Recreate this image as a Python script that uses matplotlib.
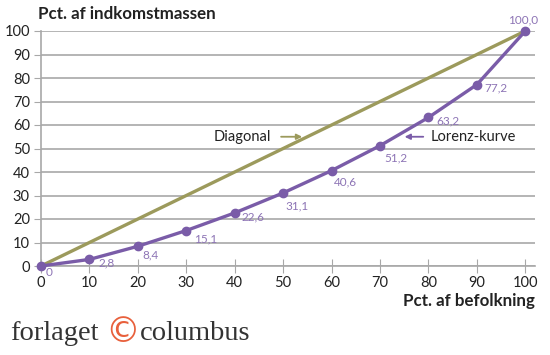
import matplotlib.pyplot as plt

# data
befolkning = [0, 10, 20, 30, 40, 50, 60, 70, 80, 90, 100]
indkomst = [0, 2.8, 8.4, 15.1, 22.6, 31.1, 40.6, 51.2, 63.2, 77.2, 100.0]
labels = ["0", "2,8", "8,4", "15,1", "22,6", "31,1", "40,6", "51,2", "63,2", "77,2", "100,0"]
ticks = [0, 10, 20, 30, 40, 50, 60, 70, 80, 90, 100]

# label offsets in pixels
offsets = [(5, -6), (9, -4), (5, -9), (8, -8), (7, -4), (2, -13), (2, -11), (4, -12), (8, -3), (7, -3), (-17, 11)]

purple = "#7a5ca8"
lab_purple = "#8d74b5"
olive = "#9c9a5c"
grid_c = "#a8a8a8"
txt = "#222222"

plt.rcParams['font.family'] = ['Lato', 'DejaVu Sans']

fig = plt.figure(figsize=(5.5, 3.55), dpi=100)
ax = fig.add_axes([41 / 550, 1 - 266 / 355, (535 - 41) / 550, (266 - 31) / 355])
ax.set_xlim(0, 102)
ax.set_ylim(0, 100)

ax.plot([0, 100], [0, 100], color=olive, lw=2.4, clip_on=False, zorder=3)
ax.plot(befolkning, indkomst, color=purple, lw=2.4, marker='o', ms=6, clip_on=False, zorder=4)

for x, y, s, (dx, dy) in zip(befolkning, indkomst, labels, offsets):
    ax.annotate(s, (x, y), xytext=(dx, dy), textcoords='offset pixels', color=lab_purple,
                fontsize=8.5, ha='left', va='center')

ax.set_yticks(ticks)
ax.set_xticks(ticks)
ax.set_yticklabels([str(t) for t in ticks], fontsize=10.5, color=txt)
ax.set_xticklabels([str(t) for t in ticks], fontsize=10.5, color=txt)
ax.grid(axis='y', color=grid_c, lw=1.2)
ax.set_axisbelow(True)
for s in ['top', 'right']:
    ax.spines[s].set_visible(False)
ax.spines['left'].set_color(grid_c)
ax.spines['bottom'].set_color(grid_c)
ax.spines['left'].set_linewidth(1.2)
ax.spines['bottom'].set_linewidth(1.2)
ax.tick_params(axis='y', length=5, color=grid_c, pad=3)
ax.tick_params(axis='x', direction='inout', length=10, color=grid_c, pad=2)

# annotations
ax.text(47.5, 55, "Diagonal", fontsize=10.5, color=txt, ha='right', va='center')
ax.annotate("", xy=(54.5, 55), xytext=(49, 55),
            arrowprops=dict(arrowstyle='-|>', color=olive, lw=1.3, mutation_scale=8))
ax.text(80.5, 55, "Lorenz-kurve", fontsize=10.5, color=txt, ha='left', va='center')
ax.annotate("", xy=(74.5, 55), xytext=(79.5, 55),
            arrowprops=dict(arrowstyle='-|>', color=purple, lw=1.3, mutation_scale=8))

fig.text(38 / 550, 1 - 14 / 355, "Pct. af indkomstmassen", fontsize=12.2, fontweight='bold',
         color=txt, ha='left', va='center')
fig.text(535 / 550, 1 - 301 / 355, "Pct. af befolkning", fontsize=12.2, fontweight='bold',
         color=txt, ha='right', va='center')

# logo
fig.text(10 / 550, 1 - 333 / 355, "forlaget", fontsize=20.5, family='Liberation Serif', color='#333333',
         ha='left', va='center')
fig.text(123 / 550, 1 - 332 / 355, "\u00a9", fontsize=25, family='DejaVu Sans', color='#e8603c',
         ha='center', va='center')
fig.text(140 / 550, 1 - 333 / 355, "columbus", fontsize=20.5, family='Liberation Serif', color='#333333',
         ha='left', va='center')

fig.savefig("out.png", dpi=100)
